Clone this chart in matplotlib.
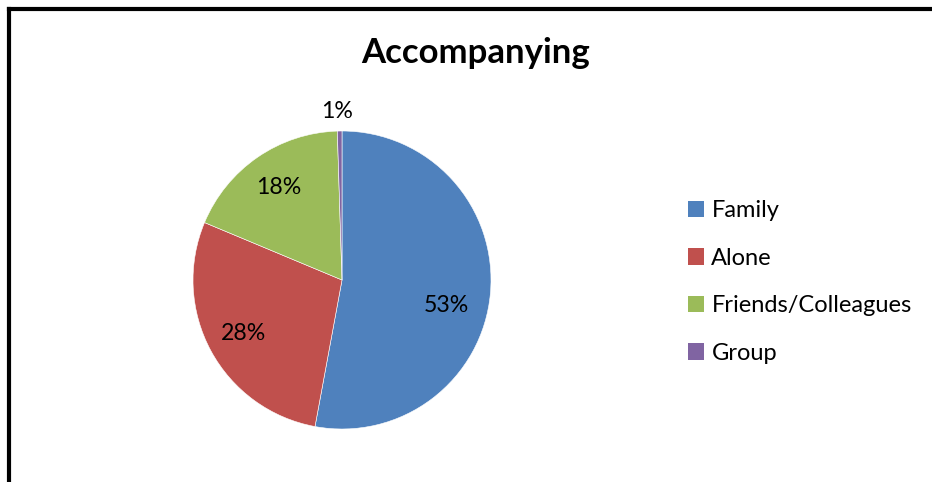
import numpy as np
import matplotlib.pyplot as plt
from matplotlib.patches import Patch
from matplotlib.lines import Line2D

plt.rcParams['font.family'] = ['Lato', 'DejaVu Sans']

categories = ['Family', 'Alone', 'Friends/Colleagues', 'Group']
shares = [52.9, 28.4, 18.2, 0.5]
pct_labels = ['53%', '28%', '18%', '1%']
colors = ['#4F81BD', '#C0504D', '#9BBB59', '#8064A2']

W, H = 932, 482
fig = plt.figure(figsize=(W / 100, H / 100), dpi=100)

# pie: centre ~ (342, 280) px, radius ~149 px
cx, cy, r = 342, 280, 149
ax = fig.add_axes([(cx - r) / W, (H - cy - r) / H, 2 * r / W, 2 * r / H])
wedges, _ = ax.pie(shares, colors=colors, startangle=90, counterclock=False,
                   wedgeprops=dict(edgecolor='white', linewidth=0.4))
ax.set_xlim(-1, 1)
ax.set_ylim(-1, 1)

# percentage labels (Excel "best fit" style placement)
label_pos = {0: (0.70, -0.17), 3: (-0.03, 1.13)}
for i, w in enumerate(wedges):
    if i in label_pos:
        x, y = label_pos[i]
    else:
        mid = np.deg2rad((w.theta1 + w.theta2) / 2)
        x, y = 0.75 * np.cos(mid), 0.75 * np.sin(mid)
    ax.text(x, y, pct_labels[i], ha='center', va='center', fontsize=16.7, color='#000000')

fig.text(476 / W, 1 - 53 / H, 'Accompanying', ha='center', va='center',
         fontsize=25, fontweight='bold')

handles = [Patch(facecolor=c, edgecolor='none') for c in colors]
fig.legend(handles, categories, loc='center left', bbox_to_anchor=(667 / W, 1 - 282 / H),
           frameon=False, fontsize=17, handlelength=0.68, handleheight=0.68,
           handletextpad=0.3, labelspacing=1.12)

# outer frame (cut off at right and bottom)
x0 = 9 / W
y0 = 1 - 9 / H
fig.add_artist(Line2D([x0, x0], [0, y0], color='black', lw=3, transform=fig.transFigure,
                      solid_capstyle='projecting'))
fig.add_artist(Line2D([x0, 1], [y0, y0], color='black', lw=3, transform=fig.transFigure,
                      solid_capstyle='projecting'))

fig.savefig('out.png', dpi=100)
